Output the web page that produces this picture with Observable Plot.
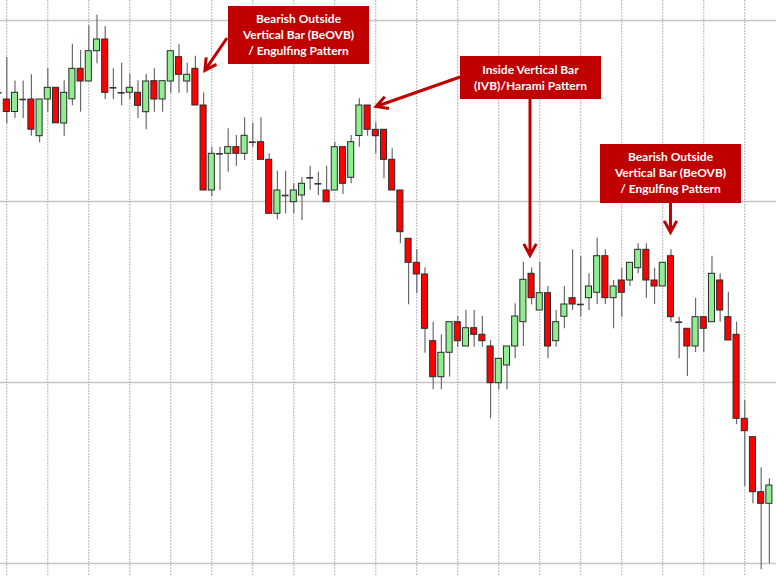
<!DOCTYPE html>
<html><head><meta charset="utf-8">
<script src="https://cdn.jsdelivr.net/npm/d3@7"></script>
<script src="https://cdn.jsdelivr.net/npm/@observablehq/plot@0.6"></script>
<style>html,body{margin:0;padding:0;background:#fff;overflow:hidden}#chart svg{display:block}</style>
</head><body><div id="chart"></div>
<script>
// Candle values (price units), bars -1 .. 93
const open = [470.7,
 464,451.5,464,464,427.3,464,475.7,440,464.2,494.7,
 482,512.3,524,475.7,470.7,470.7,470.7,451.3,482.3,464,
 482,506.3,482,494.7,458,373,409.7,409.7,416.3,409.7,
 421.3,421.3,403.7,349.7,368,361.3,368,385.7,379.7,373,
 373,416.3,385.7,427.5,458,433.7,433.7,403.7,373,324.7,
 300.7,289,222.3,186.3,210.7,241.3,217,235.3,228.7,217,
 180.3,198,217,241.3,289.7,253,270.3,222.3,246.7,265.3,
 259,265.3,270.7,307.3,265.3,283,283,295.3,313.7,283,
 277,307.3,241.3,234.7,217,246.3,241.3,283,246.3,228.7,
 144.7,126.3,71.3,59.7];
const high = [470.7,
 506.3,482.5,482.5,488.8,464,495,475.7,482.7,519.2,513,
 537.7,548.3,537,494.7,500.3,489,482.7,489,494.7,482.3,
 512.3,518.7,500.3,507.3,470.7,416.3,416.3,434.7,428,445.7,
 440.3,445.7,409.7,392.3,392.3,379.7,385.7,397.3,391.3,397.3,
 421.3,416.3,428,464.7,458,440.7,433.7,414.7,373,324.7,
 313.7,295.7,241.3,228.7,241.3,247,253,253,247,223,
 204.7,217,259.7,301.3,295.7,301.3,277,253,277,313.7,
 307,289.7,325.3,313.7,283,295.3,300.7,319.7,319.7,295.3,
 300.7,313.7,246.3,234.7,265.3,246.3,307.3,289.7,271.3,241.3,
 163,126.3,95.7,84.7];
const low = [470.7,
 439.7,445,445,427.2,420.7,451.3,440.2,427.3,457.8,451.3,
 482,499.7,464,464,457.7,464,445,433.7,451.3,451.3,
 470.3,470.3,470.3,458,373,367,373,391.3,397.3,403,
 416.3,403.7,349.7,343.7,349.7,349.7,343,373,368,361.3,
 373,369,379.7,416.3,427.3,409.7,384.7,373,319.7,258.7,
 269.7,210.3,173.7,173.7,186.3,216.3,217,216.3,216.3,144.7,
 173.7,173.7,204.7,217,258.7,253,204.7,216.3,234.7,253,
 246.3,253,259,259,234.7,246.3,277,289.7,265.3,259,
 277,241.3,204.7,187,211,211,241.3,241.3,223,139,
 77,59.7,-6.3,-0.3];
const close = [470.7,
 451.5,470.7,464,433.8,464,475.7,440.2,470.7,494.7,482,
 512.3,524,470.7,475.7,470.7,475.7,457.7,482,464,482.3,
 512.3,488.7,488.7,458,373,409.7,409.7,416.3,409.7,427.7,
 421.3,403.7,349.7,373,368,373,379.7,385.7,379.7,361.3,
 416.3,379.7,421.3,458,433.7,427.3,403.7,373,331.3,300.7,
 289,234.7,186.3,210.7,241.3,222.3,235.3,228.7,222.3,180.3,
 204.7,217,247,283.7,265.3,270.3,217,241.3,259,259,
 259,277,307.3,265.3,277,270.7,300.7,313.7,283,277,
 300.7,246.3,241.3,217,246.3,234.7,289.7,253,223,144.7,
 132.3,71.3,59.7,78];
const gridPrices = [0, 181, 362, 543];
const gridBars = d3.range(0, 94, 5);

const noteText = [
  ["Bearish Outside", "Vertical Bar (BeOVB)", "/ Engulfing Pattern"],
  ["Inside Vertical Bar", "(IVB)/Harami Pattern"],
  ["Bearish Outside", "Vertical Bar (BeOVB)", "/ Engulfing Pattern"]
];
const noteBars = [23, 44, 81];

const candles = open.map((o, k) => ({bar: k - 1, open: o, high: high[k], low: low[k], close: close[k]}));
const bodies = candles.filter(d => d.open !== d.close);
const dojis = candles.filter(d => d.open === d.close);
const half = 0.37;

const chart = Plot.plot({
  width: 776, height: 576, margin: 0,
  x: {type: "linear", domain: [-0.768, 93.87], axis: null},
  y: {domain: [-13, 563], axis: null},
  color: {type: "identity"},
  marks: [
    Plot.ruleY(gridPrices, {stroke: "#c6c6c6", strokeWidth: 1.6}),
    Plot.ruleX(gridBars, {stroke: "#b4b4b4", strokeWidth: 1, strokeDasharray: "2,1"}),
    Plot.ruleX(candles, {x: "bar", y1: "low", y2: "high", stroke: "#6a6a6a", strokeWidth: 1.2}),
    Plot.rect(bodies, {x1: d => d.bar - half, x2: d => d.bar + half, y1: "open", y2: "close",
      fill: d => d.close > d.open ? "#90ee90" : "#ff0000", stroke: "#2a2a2a", strokeWidth: 1}),
    Plot.ruleY(dojis, {y: "open", x1: d => d.bar - 0.42, x2: d => d.bar + 0.42, stroke: "#333", strokeWidth: 1.6})
  ]
});
document.getElementById("chart").appendChild(chart);

// annotations placed with the plot's own scales
const xs = chart.scale("x"), ys = chart.scale("y");
const cFor = b => candles.find(d => d.bar === b);
const svg = d3.select(chart);
const g = svg.append("g");
const RED = "#c00000";
function box(x, y, w, h, lines, y0) {
  g.append("rect").attr("x", x).attr("y", y).attr("width", w).attr("height", h).attr("fill", RED);
  lines.forEach((t, k) => g.append("text").attr("x", x + w / 2).attr("y", y0 + k * 16)
    .attr("text-anchor", "middle").attr("dy", "0.35em").attr("fill", "#fff")
    .attr("font-family", "Lato, 'Open Sans', sans-serif").attr("font-weight", "bold")
    .attr("font-size", "12px").text(t));
}
function arrow(x1, y1, x2, y2) {
  const a = Math.atan2(y2 - y1, x2 - x1), L = 13, s = 0.5;
  g.append("path").attr("d",
    `M${x1},${y1}L${x2},${y2}M${x2 - L * Math.cos(a - s)},${y2 - L * Math.sin(a - s)}L${x2},${y2}L${x2 - L * Math.cos(a + s)},${y2 - L * Math.sin(a + s)}`)
    .attr("fill", "none").attr("stroke", RED).attr("stroke-width", 3).attr("stroke-linejoin", "miter");
}
// note 1
{
  const c = cFor(noteBars[0]);
  box(228, 6, 141, 58, noteText[0], 19);
  arrow(227, 38, xs.apply(c.bar) + 10, ys.apply(c.open) + 2);
}
// note 2
{
  const c = cFor(noteBars[1]);
  box(460, 56, 141, 43, noteText[1], 69.5);
  arrow(460, 77, xs.apply(c.bar) + 9, ys.apply(c.high) + 1.5);
  const c2 = cFor(64);
  arrow(530, 99, 530, ys.apply(c2.high) - 12);
}
// note 3
{
  const c = cFor(noteBars[2]);
  box(600, 144, 141, 59, noteText[2], 157);
  arrow(xs.apply(c.bar), 203, xs.apply(c.bar), ys.apply(c.high) - 17);
}
</script></body></html>
